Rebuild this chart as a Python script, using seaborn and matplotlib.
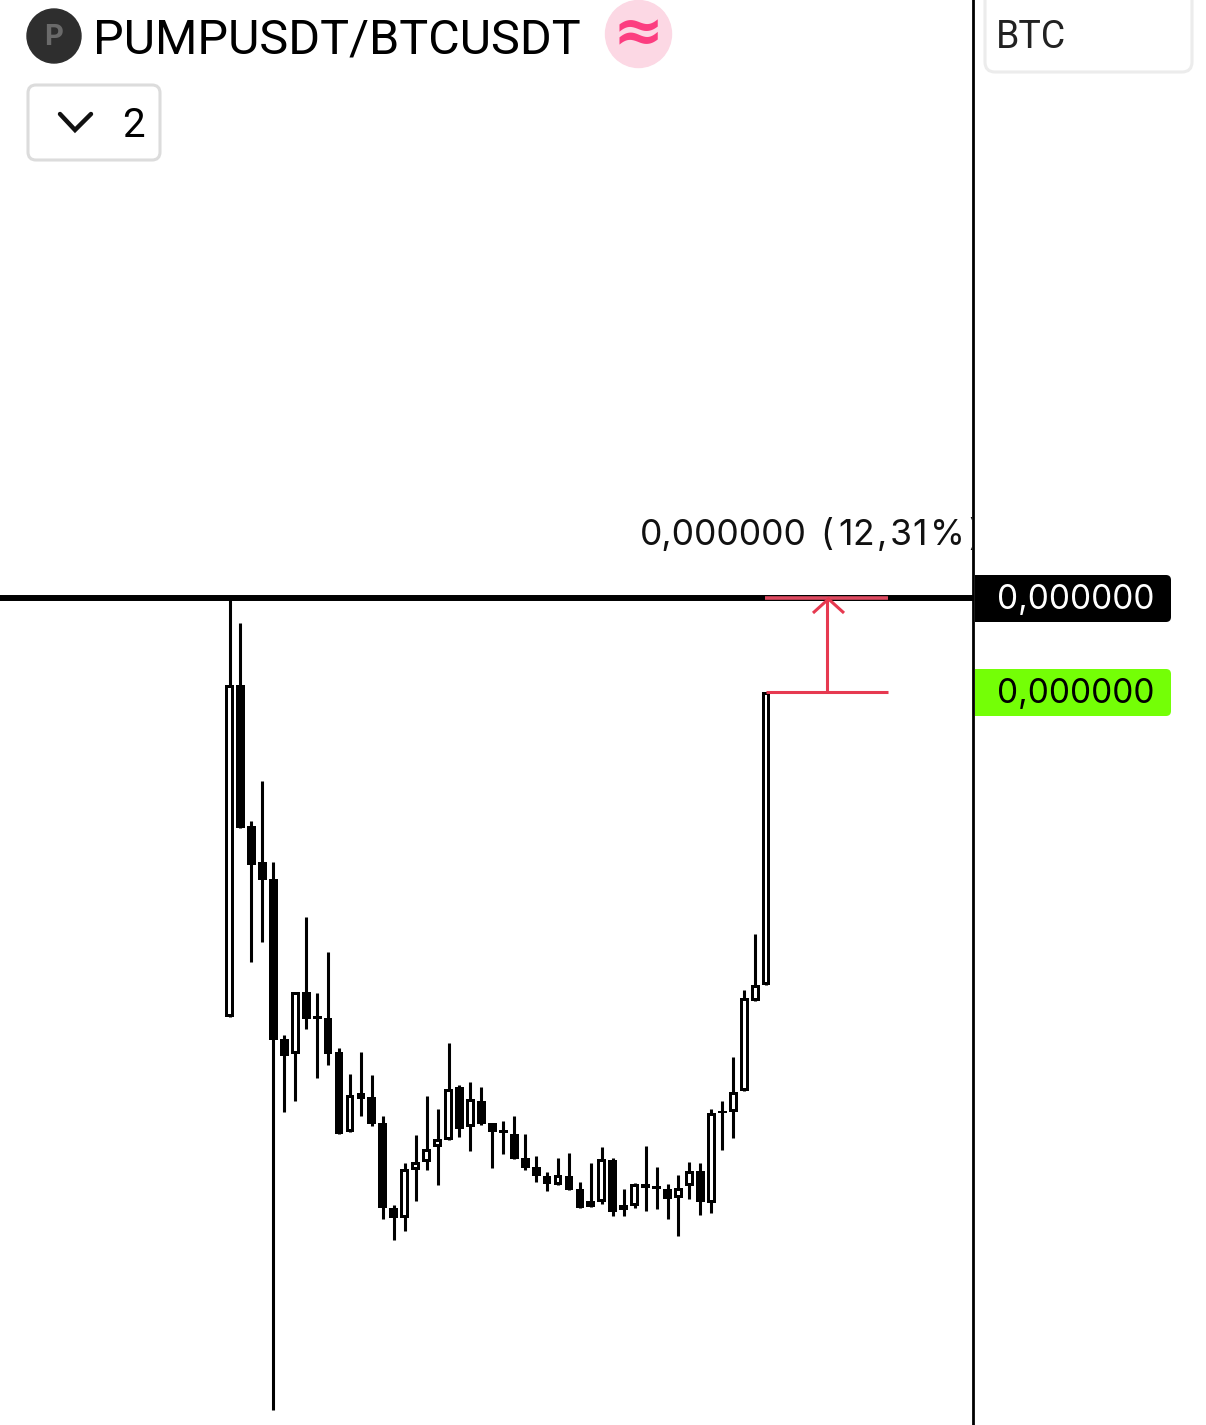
import pandas as pd
import matplotlib.pyplot as plt
import matplotlib.patches as mpatches
import seaborn as sns

opens = [408, 740, 599, 563, 546, 386, 371, 433, 409, 407,
         373, 293, 332, 328, 302, 217, 207, 255, 263, 278,
         285, 338, 298, 324, 302, 295, 291, 267, 258, 249,
         240, 249, 236, 224, 223, 265, 220, 219, 241, 239,
         236, 227, 239, 254, 222, 314, 313, 334, 424, 440]
closes = [740, 597, 560, 545, 385, 369, 433, 406, 406, 371,
          291, 330, 326, 301, 217, 207, 256, 263, 276, 286,
          336, 296, 326, 301, 293, 292, 266, 257, 249, 241,
          250, 235, 217, 218, 266, 213, 215, 241, 237, 236,
          226, 237, 254, 223, 312, 312, 333, 427, 440, 733]
highs = [827, 802, 604, 644, 563, 390, 433, 508, 432, 473,
         377, 351, 373, 350, 309, 220, 262, 290, 329, 316,
         382, 340, 343, 338, 302, 304, 309, 291, 269, 253,
         267, 272, 243, 262, 278, 267, 236, 242, 279, 258,
         241, 250, 263, 262, 316, 324, 368, 435, 491, 733]
lows = [408, 597, 463, 483, 15, 313, 324, 396, 347, 360,
        291, 293, 309, 299, 206, 185, 194, 224, 255, 240,
        285, 288, 274, 300, 257, 271, 266, 255, 243, 234,
        240, 235, 217, 218, 221, 209, 209, 217, 214, 216,
        206, 189, 226, 210, 212, 275, 287, 334, 424, 440]
top_line = 827
last_price = 733
measure_bars = 11.1
title_text = "PUMPUSDT/BTCUSDT"
price_text = "0,000000"
# el texto del cambio va por partes, el original tiene numeros de ancho fijo
change_parts = ["0,000000", "(", "1", "2", ",", "3", "1", "%", ")"]
change_x = [640, 820, 838, 852, 877, 890, 912, 930, 968]

W, H = 1206, 1425
gap_px = 10.95
first_px = 229.5
body_px = 8.8
edge_px = 3.0
axis_px = 973.3
red = "#e63950"

sns.set_theme(style="white")
plt.rcParams["font.family"] = ["Inter", "DejaVu Sans"]
plt.rcParams["lines.solid_capstyle"] = "butt"

velas = pd.DataFrame({"i": range(len(opens)), "open": opens, "close": closes, "high": highs, "low": lows})
velas["abajo"] = velas[["open", "close"]].min(axis=1)
velas["alto"] = (velas["close"] - velas["open"]).abs()
huecas = velas[velas["close"] > velas["open"]]

fig = plt.figure(figsize=(W / 100, H / 100), dpi=100, facecolor="white")
ax = fig.add_axes([0, 0, axis_px / W, 1])

# mechas
mechas = velas.melt(id_vars="i", value_vars=["high", "low"], value_name="precio")
sns.lineplot(data=mechas, x="i", y="precio", units="i", estimator=None, sort=False,
             color="black", linewidth=2.2, legend=False, ax=ax)
# cuerpos en negro y el interior blanco de las velas que suben
sns.barplot(x=velas["i"], y=velas["alto"], bottom=velas["abajo"], native_scale=True, width=body_px / gap_px,
            color="black", saturation=1, linewidth=0, errorbar=None, legend=False, ax=ax)
sns.barplot(x=huecas["i"], y=huecas["alto"] - 2 * edge_px, bottom=huecas["abajo"] + edge_px, native_scale=True,
            width=(body_px - 2 * edge_px) / gap_px, color="white", saturation=1, linewidth=0, errorbar=None,
            legend=False, ax=ax, zorder=3)

ax.set_xlim(-first_px / gap_px, (axis_px - first_px) / gap_px)
ax.set_ylim(0, H)
ax.set(xlabel="", ylabel="", xticks=[], yticks=[])
sns.despine(ax=ax, left=True, bottom=True, right=False)
ax.spines["right"].set_color("black")
ax.spines["right"].set_linewidth(2.0)

ax.axhline(top_line, color="black", linewidth=4.3, zorder=4)
end = len(opens) - 1
ax.plot([end, end + measure_bars], [last_price, last_price], color=red, linewidth=2.2, zorder=5)
ax.plot([end - 0.1, end + measure_bars], [top_line, top_line], color="#dd4a60", linewidth=2.6, zorder=5)
ax.plot([end + measure_bars / 2] * 2, [last_price, top_line], color=red, linewidth=2.2, zorder=5)

# interfaz: capa encima en coordenadas de pixel
ui = fig.add_axes([0, 0, 1, 1], facecolor="none")
ui.set_xlim(0, W)
ui.set_ylim(H, 0)
ui.axis("off")

ui.plot([813, 828.5, 844], [613, 599, 613], color=red, linewidth=2.2, solid_joinstyle="miter", zorder=6)

ui.add_patch(mpatches.Ellipse((54, 36), 54, 54, color="#2e2e2e"))
ui.text(54, 37, "P", color="#6a6a6a", fontsize=21, fontweight="bold", ha="center", va="center")
ui.text(93, 53, title_text, color="black", fontsize=34.9, family=["Roboto", "DejaVu Sans"], ha="left", va="baseline")
ui.add_patch(mpatches.Ellipse((638.5, 34), 66, 67, color="#fcd8e4"))
ui.text(638.5, 35, "≈", color="#fc3d80", fontsize=44, fontweight="bold", family=["DejaVu Sans"], ha="center", va="center")

ui.add_patch(mpatches.FancyBboxPatch((28, 85), 132, 75, boxstyle="round,pad=0,rounding_size=8",
                                     facecolor="white", edgecolor="#dcdcdc", linewidth=2.2))
ui.plot([60, 75, 91], [114, 130, 114], color="#111111", linewidth=3.2, solid_capstyle="round", solid_joinstyle="miter")
ui.text(133, 137, "2", color="black", fontsize=29, family=["Roboto", "DejaVu Sans"], ha="center", va="baseline")

ui.add_patch(mpatches.FancyBboxPatch((985, -12), 207, 84, boxstyle="round,pad=0,rounding_size=10",
                                     facecolor="white", edgecolor="#ececec", linewidth=2.2))
ui.text(996, 48, "BTC", color="#222222", fontsize=27, family=["Roboto", "DejaVu Sans"], ha="left", va="baseline")

# el cambio se corta en la linea vertical
corte = mpatches.Rectangle((0, 0), axis_px - 1, H, transform=ui.transData)
for part, x in zip(change_parts, change_x):
    t = ui.text(x, 545, part, color="#111111", fontsize=25.6, ha="left", va="baseline", clip_on=True)
    t.set_clip_path(corte)

for top, box_color, txt_color in [(575, "black", "white"), (669, "#74ff06", "black")]:
    ui.add_patch(mpatches.FancyBboxPatch((975, top), 196, 47, boxstyle="round,pad=0,rounding_size=5",
                                         facecolor=box_color, edgecolor="none"))
    ui.add_patch(mpatches.Rectangle((975, top), 12, 47, facecolor=box_color, edgecolor="none"))
    ui.text(1076, top + 34, price_text, color=txt_color, fontsize=24, ha="center", va="baseline")

fig.savefig("out.png", dpi=100, facecolor="white")
